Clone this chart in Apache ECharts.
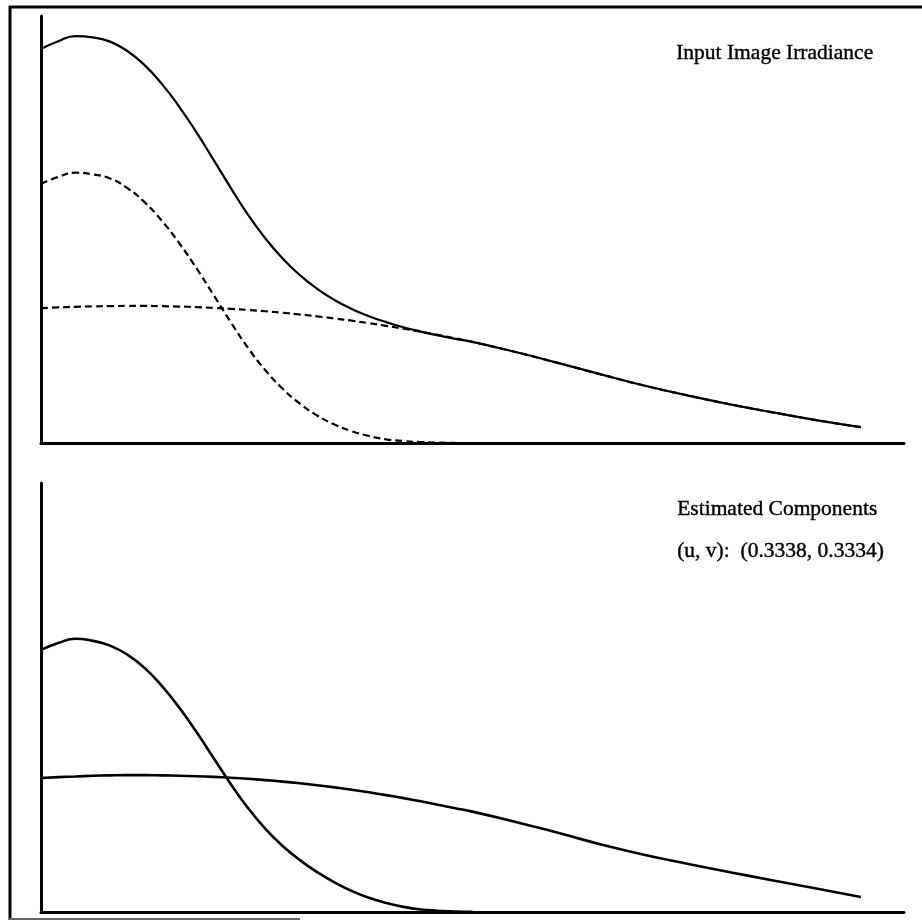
<!DOCTYPE html>
<html>
<head>
<meta charset="utf-8">
<script src="https://cdn.jsdelivr.net/npm/echarts@6/dist/echarts.min.js"></script>
<style>
html,body{margin:0;padding:0;background:#fff;}
#chart{width:922px;height:921px;}
</style>
</head>
<body>
<div id="chart"></div>
<script>
// Position along the profile (normalized)
const xs = [0,0.02,0.04,0.06,0.08,0.10,0.12,0.14,0.16,0.18,0.20,0.22,0.24,0.26,0.28,0.30,0.32,0.34,0.36,0.38,0.40,0.42,0.44,0.46,0.48,0.50,0.55,0.60,0.65,0.70,0.75,0.80,0.85,0.90,0.95];

// Top panel: input image irradiance (sum) and its two true components
const topSum    = [92.3,94.1,95.3,95.0,94.0,91.8,88.5,84.1,78.8,72.8,66.3,59.7,53.4,47.9,43.2,39.3,36.1,33.5,31.4,29.7,28.3,27.1,26.1,25.2,24.4,23.7,21.3,18.7,16.0,13.4,11.1,9.0,7.1,5.3,3.7];
const topNarrow = [60.7,62.3,63.3,62.9,61.95,59.7,56.4,52.05,46.84,40.97,34.65,28.27,22.24,17.05,12.7,9.2,6.45,4.33,2.76,1.64,0.86,0.45,0.22,0.1,0.04];
const topWide   = [31.6,31.75,31.9,32.0,32.05,32.1,32.1,32.05,31.96,31.83,31.65,31.43,31.16,30.85,30.5,30.1,29.65,29.17,28.64,28.06,27.44,26.77,26.06,25.31,24.51,23.67,21.3,18.7,16.0,13.4,11.1,9.0,7.1,5.3,3.7];

// Bottom panel: estimated components
const estNarrow = [61.1,62.7,63.7,63.2,62.1,60.0,56.9,52.7,47.7,42.0,35.9,29.8,24.2,19.4,15.4,12.1,9.3,6.9,4.9,3.3,2.1,1.2,0.6,0.3,0.1,0.05];
const estWide   = [31.25,31.45,31.6,31.75,31.85,31.9,31.9,31.85,31.77,31.65,31.5,31.3,31.05,30.75,30.4,30.0,29.55,29.05,28.5,27.9,27.25,26.55,25.8,25.0,24.2,23.4,21.0,18.4,15.7,13.3,11.2,9.2,7.3,5.4,3.5];

const topTitle = 'Input Image Irradiance';
const botTitle = 'Estimated Components';
const botNote  = '(u, v):  (0.3338, 0.3334)';

function pairs(vals){ return vals.map((v,i)=>[xs[i], v]); }

const chart = echarts.init(document.getElementById('chart'), null, {renderer:'canvas'});
const axisBase = {
  axisLine:{show:true, onZero:false, lineStyle:{color:'#000', width:3}},
  axisTick:{show:false}, axisLabel:{show:false}, splitLine:{show:false}
};
const solid = {color:'#000', width:2.2};
const dashed = {color:'#000', width:2.2, type:[7,4]};
const font = '21.5px "Liberation Serif", "DejaVu Serif", serif';
const txt = (t) => ({text:t, font:font, fill:'#000', stroke:'#000', lineWidth:0.4});

chart.setOption({
  backgroundColor:'#fff',
  animation:false,
  grid:[
    {left:41, top:16, width:863, height:427},
    {left:41, top:483, width:863, height:429}
  ],
  xAxis:[
    Object.assign({type:'value', gridIndex:0, min:0, max:1}, axisBase),
    Object.assign({type:'value', gridIndex:1, min:0, max:1}, axisBase)
  ],
  yAxis:[
    Object.assign({type:'value', gridIndex:0, min:0, max:100}, axisBase),
    Object.assign({type:'value', gridIndex:1, min:0, max:100}, axisBase)
  ],
  series:[
    {type:'line', xAxisIndex:0, yAxisIndex:0, data:pairs(topNarrow), smooth:0.5, symbol:'none', lineStyle:dashed},
    {type:'line', xAxisIndex:0, yAxisIndex:0, data:pairs(topWide), smooth:0.5, symbol:'none', lineStyle:dashed},
    {type:'line', xAxisIndex:0, yAxisIndex:0, data:pairs(topSum), smooth:0.5, symbol:'none', lineStyle:solid},
    {type:'line', xAxisIndex:1, yAxisIndex:1, data:pairs(estNarrow), smooth:0.5, symbol:'none', lineStyle:{color:'#000', width:2.6}},
    {type:'line', xAxisIndex:1, yAxisIndex:1, data:pairs(estWide), smooth:0.5, symbol:'none', lineStyle:{color:'#000', width:2.6}}
  ],
  graphic:[
    {type:'line', shape:{x1:9, y1:7, x2:922, y2:7}, style:{stroke:'#000', lineWidth:3}},
    {type:'line', shape:{x1:10, y1:6, x2:10, y2:920}, style:{stroke:'#000', lineWidth:3}},
    {type:'line', shape:{x1:9, y1:919, x2:300, y2:919}, style:{stroke:'#666', lineWidth:2}},
    {type:'text', left:676, top:42, style:txt(topTitle)},
    {type:'text', left:677, top:498, style:txt(botTitle)},
    {type:'text', left:677, top:540, style:txt(botNote)}
  ]
});
</script>
</body>
</html>
